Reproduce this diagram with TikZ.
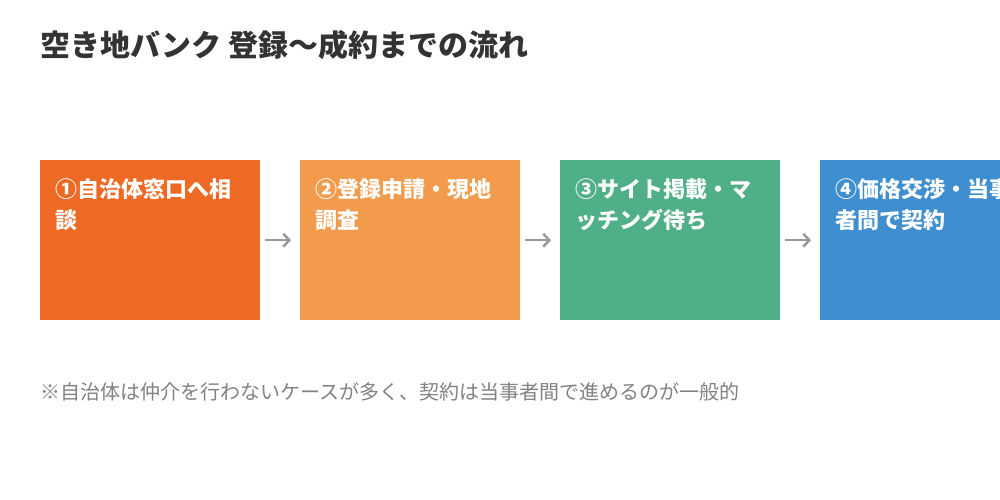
\documentclass[tikz,border=0pt]{standalone}
\usepackage{fontspec}
\setmainfont{Noto Sans CJK JP}
\usetikzlibrary{arrows.meta}
\definecolor{c1}{HTML}{EE6A24}
\definecolor{c2}{HTML}{F29B4C}
\definecolor{c3}{HTML}{4FAF87}
\definecolor{c4}{HTML}{3E8ED0}
\definecolor{tx}{HTML}{333333}
\definecolor{gr}{HTML}{999999}
\begin{document}
\begin{tikzpicture}[x=1pt,y=-1pt,
  box/.style={minimum width=220pt,minimum height=160pt,anchor=north west,inner sep=0pt,draw=none},
  lbl/.style={anchor=north west,text=white,font=\bfseries\fontsize{22}{31}\selectfont,align=left,inner sep=0pt},
  arr/.style={gr,line width=2.5pt,-{Straight Barb[length=6pt,width=13pt]},shorten <=5pt,shorten >=9pt}]
\useasboundingbox (0,0) rectangle (1000,500);
\clip (0,0) rectangle (1000,500);
\fill[white] (0,0) rectangle (1000,500);
\node[anchor=west,inner sep=0pt,text=tx,font=\bfseries\fontsize{30}{34}\selectfont] (title) at (40,45) {空き地バンク 登録〜成約までの流れ};
\node[box,fill=c1] (b1) at (40,160) {};
\node[box,fill=c2] (b2) at (300,160) {};
\node[box,fill=c3] (b3) at (560,160) {};
\node[box,fill=c4] (b4) at (820,160) {};
\node[lbl] (t1) at (55,178) {①自治体窓口へ相\\談};
\node[lbl] (t2) at (315,178) {②登録申請・現地\\調査};
\node[lbl] (t3) at (575,178) {③サイト掲載・マ\\ッチング待ち};
\node[lbl] (t4) at (835,178) {④価格交渉・当事\\者間で契約};
\draw[arr] (b1.east) -- (b2.west);
\draw[arr] (b2.east) -- (b3.west);
\draw[arr] (b3.east) -- (b4.west);
\node[anchor=west,inner sep=0pt,text=gr!85!black,font=\fontsize{20}{22}\selectfont] (note) at (40,392) {※自治体は仲介を行わないケースが多く、契約は当事者間で進めるのが一般的};
\end{tikzpicture}
\end{document}
